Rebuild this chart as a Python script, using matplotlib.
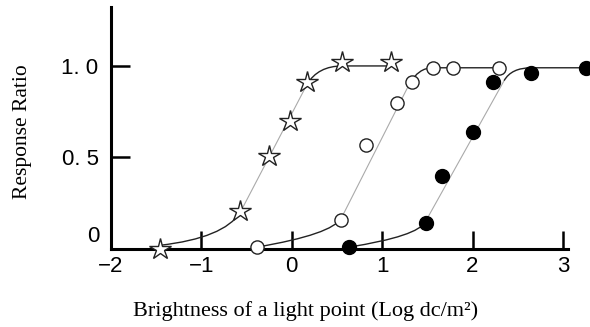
import matplotlib.pyplot as plt
from matplotlib.path import Path
from matplotlib.patches import PathPatch

# measured responses, three stimulus conditions
star_x = [-1.46, -0.57, -0.25, -0.02, 0.17, 0.56, 1.10]
star_y = [0.00, 0.21, 0.51, 0.70, 0.91, 1.02, 1.02]
open_x = [-0.39, 0.55, 0.82, 1.16, 1.33, 1.56, 1.78, 2.29]
open_y = [0.01, 0.16, 0.57, 0.80, 0.91, 0.99, 0.99, 0.99]
filled_x = [0.63, 1.48, 1.66, 2.01, 2.23, 2.65, 3.26]
filled_y = [0.01, 0.14, 0.40, 0.64, 0.91, 0.96, 0.99]

# fitted curves: lower bend, straight middle, upper bend + plateau
star_low = [(-1.46, 0.02), (-0.75, 0.06), (-0.57, 0.20)]
star_mid = [(-0.57, 0.20), (0.17, 0.90)]
star_top = [(0.17, 0.90), (0.29, 1.00), (0.56, 1.00), (1.10, 1.00)]
open_low = [(-0.39, 0.01), (0.45, 0.08), (0.55, 0.17)]
open_mid = [(0.55, 0.17), (1.30, 0.90)]
open_top = [(1.30, 0.90), (1.40, 0.99), (1.56, 0.99), (2.29, 0.99)]
filled_low = [(0.63, 0.01), (1.40, 0.07), (1.48, 0.15)]
filled_mid = [(1.48, 0.15), (2.35, 0.92)]
filled_top = [(2.35, 0.92), (2.43, 0.99), (2.65, 0.99), (3.26, 0.99)]

xticks = [-2, -1, 0, 1, 2, 3]
xticklabels = ['\u22122', '\u22121', '0', '1', '2', '3']
yticks = [0.5, 1.0]
yticklabels = ['0. 5', '1. 0']

tick_font = 'Liberation Sans'
label_font = 'Liberation Serif'

fig = plt.figure(figsize=(5.9, 3.27), dpi=100)
ax = fig.add_axes([111 / 590, 78 / 327, 479 / 590, 242 / 327])
ax.set_xlim(-2, 3.30)
ax.set_ylim(0, 1.322)

for s in ['top', 'right']:
    ax.spines[s].set_visible(False)
for s in ['left', 'bottom']:
    ax.spines[s].set_linewidth(2.2)
ax.spines['bottom'].set_bounds(-2, 3.06)


def bend(pts, dark='#222222'):
    verts = list(pts)
    codes = [Path.MOVETO, Path.CURVE3, Path.CURVE3] + [Path.LINETO] * (len(verts) - 3)
    ax.add_patch(PathPatch(Path(verts, codes), fc='none', ec=dark, lw=1.0,
                           clip_on=False, zorder=2))


def straight(pts):
    xs, ys = zip(*pts)
    ax.plot(xs, ys, color='#aaaaaa', lw=0.8, zorder=1, clip_on=False)


for low, mid, top in [(star_low, star_mid, star_top),
                      (open_low, open_mid, open_top),
                      (filled_low, filled_mid, filled_top)]:
    bend(low)
    straight(mid)
    bend(top)

ax.plot(star_x, star_y, ls='none', marker='*', ms=16, mfc='white', mec='#222222',
        mew=1.0, zorder=3, clip_on=False)
ax.plot(open_x, open_y, ls='none', marker='o', ms=9.5, mfc='white', mec='#222222',
        mew=1.0, zorder=3, clip_on=False)
ax.plot(filled_x, filled_y, ls='none', marker='o', ms=10, mfc='black', mec='black',
        zorder=3, clip_on=False)

ax.set_xticks(xticks)
ax.set_xticklabels(xticklabels, family=tick_font, fontsize=16)
ax.set_yticks(yticks)
ax.set_yticklabels(yticklabels, family=tick_font, fontsize=16)
ax.tick_params(axis='x', direction='in', length=13, width=1.8, pad=5)
ax.tick_params(axis='y', direction='in', length=14, width=1.8, pad=9)
ax.text(-2.13, 0.07, '0', family=tick_font, fontsize=16, ha='right', va='center')

fig.text(306 / 590, 11 / 327, 'Brightness of a light point (Log dc/m\u00b2)',
         family=label_font, fontsize=16, ha='center', va='baseline')
fig.text(23 / 590, 195 / 327, 'Response Ratio', family=label_font, fontsize=15.5,
         rotation=90, ha='center', va='center')

fig.savefig('out.png', dpi=100)
